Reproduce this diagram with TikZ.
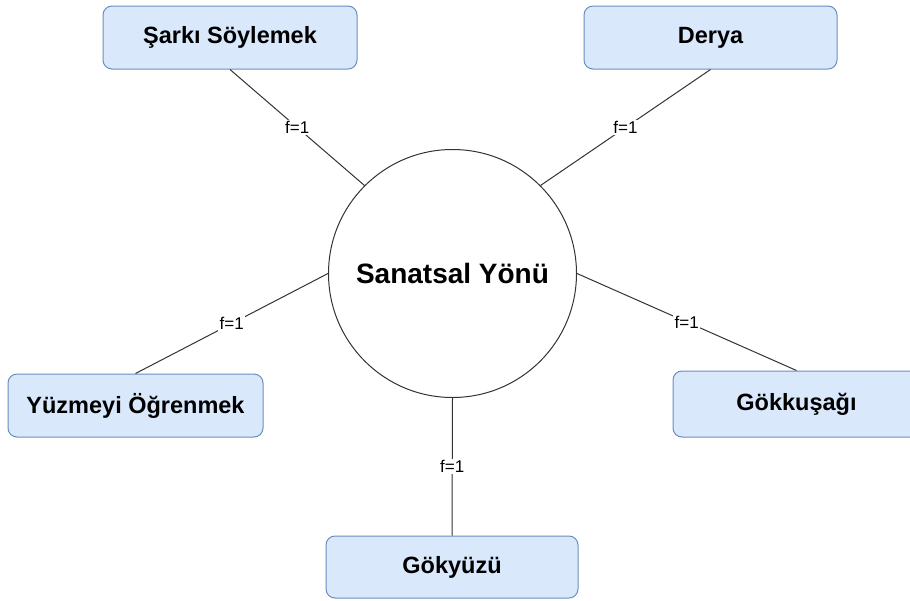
\documentclass[tikz,border=0pt]{standalone}
\usepackage{fontspec}
\setmainfont{Liberation Sans}
\definecolor{boxfill}{HTML}{DAE8FC}
\definecolor{boxdraw}{HTML}{6C8EBF}
\definecolor{edgecol}{HTML}{333333}
\begin{document}
\begin{tikzpicture}[x=1pt,y=-1pt,
  topic/.style={draw=boxdraw, fill=boxfill, rounded corners=9pt, line width=1pt, inner sep=0pt,
    font=\fontsize{23.5}{28}\selectfont\bfseries},
  hub/.style={circle, draw=edgecol, line width=1pt, minimum size=248pt, inner sep=0pt,
    font=\fontsize{28}{33}\selectfont\bfseries},
  link/.style={draw=edgecol, line width=1pt},
  flabel/.style={fill=white, inner sep=1.5pt, font=\fontsize{17}{20}\selectfont}]
\useasboundingbox (0,0) rectangle (910,600);
\fill[white] (0,0) rectangle (910,600);
\node[hub] (c) at (452.5,273.5) {Sanatsal Yönü};
\node[topic, minimum width=254pt, minimum height=63pt] (s) at (230,37.5) {Şarkı Söylemek};
\node[topic, minimum width=253pt, minimum height=63pt] (d) at (710.5,37.5) {Derya};
\node[topic, minimum width=255pt, minimum height=63pt] (y) at (135.5,405.5) {Yüzmeyi Öğrenmek};
\node[topic, minimum width=247pt, minimum height=66pt] (k) at (796.5,404) {Gökkuşağı};
\node[topic, minimum width=252pt, minimum height=62pt] (g) at (452,567) {Gökyüzü};
\draw[link] (s.south) -- node[flabel]{f=1} (c.north west);
\draw[link] (d.south) -- node[flabel]{f=1} (c.north east);
\draw[link] (y.north) -- node[flabel]{f=1} (c.west);
\draw[link] (k.north) -- node[flabel]{f=1} (c.east);
\draw[link] (c.south) -- node[flabel]{f=1} (g.north);
\end{tikzpicture}
\end{document}
